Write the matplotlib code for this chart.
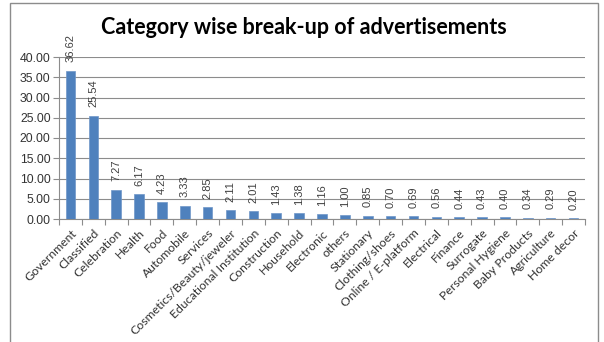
import matplotlib
matplotlib.use("Agg")
import matplotlib.pyplot as plt
import numpy as np
from matplotlib.patches import Rectangle
from matplotlib.ticker import FixedLocator, FormatStrFormatter

categories = ["Government", "Classified", "Celebration", "Health", "Food",
              "Automobile", "Services", "Cosmetics/Beauty/jeweler",
              "Educational Institution", "Construction", "Household",
              "Electronic", "others", "Stationary", "Clothing/shoes",
              "Online / E-platform", "Electrical", "Finance", "Surrogate",
              "Personal Hygiene", "Baby Products", "Agriculture", "Home decor"]
values = [36.62, 25.54, 7.27, 6.17, 4.23, 3.33, 2.85, 2.11, 2.01, 1.43, 1.38,
          1.16, 1.00, 0.85, 0.70, 0.69, 0.56, 0.44, 0.43, 0.40, 0.34, 0.29, 0.20]
yticks = [0, 5, 10, 15, 20, 25, 30, 35, 40]

fig = plt.figure(figsize=(6.04, 3.42), dpi=100)
ax = fig.add_axes([59 / 604, 1 - 219 / 342, (585 - 59) / 604, (219 - 57) / 342])

x = np.arange(len(categories))
ax.bar(x, values, width=0.42, color="#4F81BD", edgecolor="#6E96C8", linewidth=0.5, zorder=3)
for xi, v in zip(x, values):
    ax.annotate(f"{v:.2f}", (xi, v), xytext=(0, 6), textcoords="offset points",
                rotation=90, ha="center", va="bottom", fontsize=8,
                family="Liberation Sans", color="#404040", zorder=4)

ax.set_xlim(-0.5, len(categories) - 0.5)
ax.set_ylim(0, 40)
ax.set_yticks(yticks)
ax.yaxis.set_major_formatter(FormatStrFormatter("%.2f"))
ax.yaxis.grid(True, color="#8C8C8C", linewidth=0.8, zorder=0)
ax.tick_params(axis="y", length=4, width=0.8, color="#8C8C8C", labelsize=8.8,
               labelcolor="#333333", pad=2)
for lab in ax.get_yticklabels():
    lab.set_family("Liberation Sans")

ax.set_xticks(x)
ax.set_xticklabels(categories, rotation=45, ha="right", rotation_mode="anchor",
                   fontsize=8.8, family="Lato", color="#333333")
ax.tick_params(axis="x", which="major", length=0, pad=6)
ax.xaxis.set_minor_locator(FixedLocator(np.arange(len(categories) + 1) - 0.5))
ax.tick_params(axis="x", which="minor", length=4, width=0.8, color="#8C8C8C")

for s in ["top", "right"]:
    ax.spines[s].set_visible(False)
for s in ["left", "bottom"]:
    ax.spines[s].set_color("#8C8C8C")
    ax.spines[s].set_linewidth(0.8)

fig.text(303.5 / 604, 1 - 27 / 342, "Category wise break-up of advertisements",
         ha="center", va="center", fontsize=15.5, fontweight="bold", family="Lato")

fig.patches.append(Rectangle((10 / 604, -0.05), (598 - 10) / 604, 1.05 - 3 / 342,
                             transform=fig.transFigure, fill=False,
                             edgecolor="#8C8C8C", linewidth=1))

fig.savefig("out.png", dpi=100)
